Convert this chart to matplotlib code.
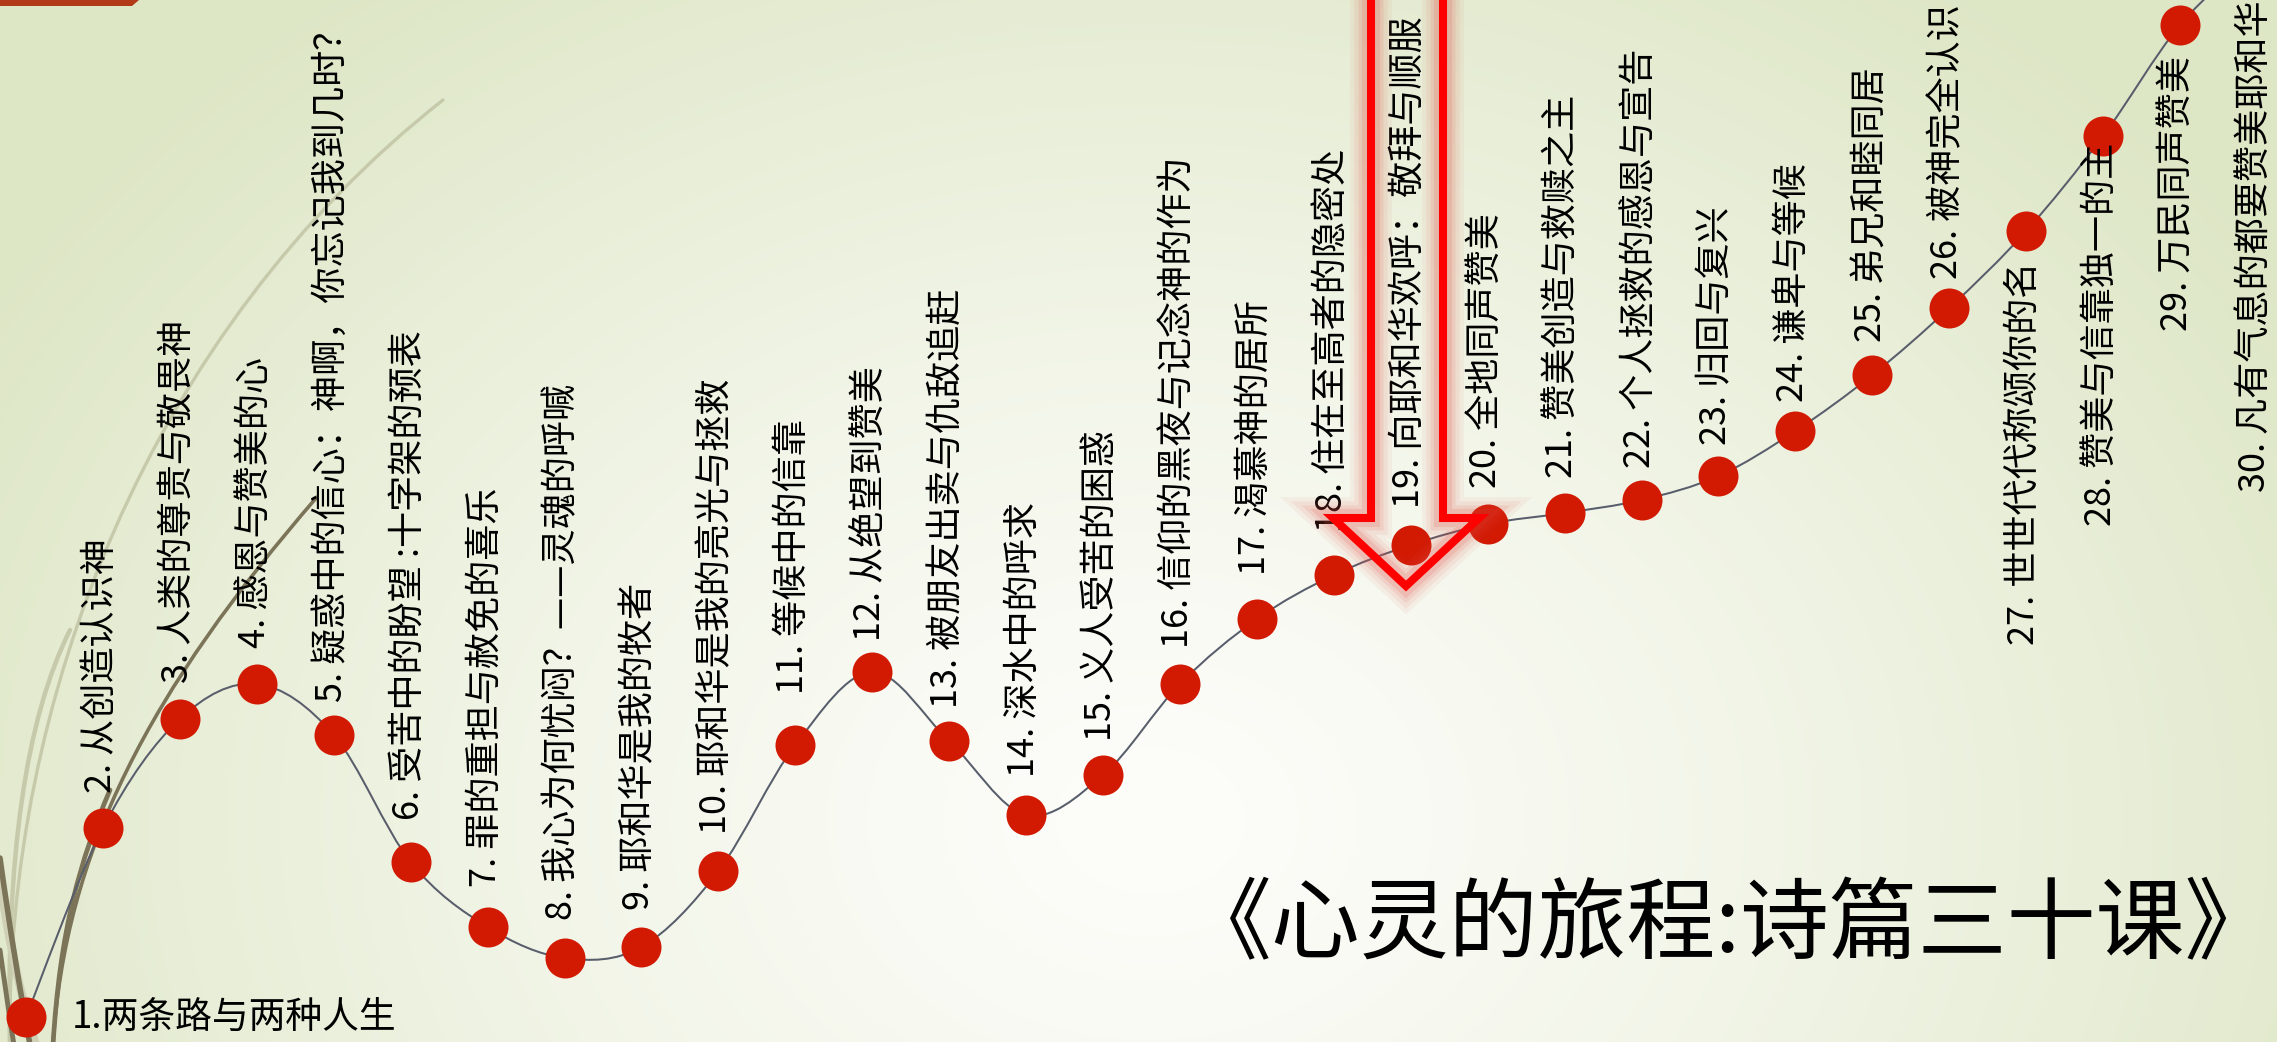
import numpy as np
import matplotlib
matplotlib.use("Agg")
import matplotlib.pyplot as plt
from matplotlib.path import Path
from matplotlib.patches import PathPatch, Polygon
from matplotlib.transforms import offset_copy

plt.rcParams['font.family'] = ['Noto Sans CJK SC', 'DejaVu Sans']

# ---------------- data ----------------
lesson_no = list(range(1, 31))
journey_level = [2.5, 21.4, 32.3, 35.8, 30.7, 18.0, 11.5, 8.4, 9.5, 17.1,
                 29.7, 37.0, 30.1, 22.7, 26.7, 35.8, 42.3, 46.7, 49.7, 51.8,
                 52.9, 54.2, 56.6, 61.1, 66.7, 73.4, 81.1, 90.6, 101.7, 109.0]
lesson_titles = [
    "1.两条路与两种人生",
    "2. 从创造认识神",
    "3. 人类的尊贵与敬畏神",
    "4. 感恩与赞美的心",
    "5. 疑惑中的信心：神啊，你忘记我到几时？",
    "6. 受苦中的盼望 :十字架的预表",
    "7. 罪的重担与赦免的喜乐",
    "8. 我心为何忧闷？——灵魂的呼喊",
    "9. 耶和华是我的牧者",
    "10. 耶和华是我的亮光与拯救",
    "11. 等候中的信靠",
    "12. 从绝望到赞美",
    "13. 被朋友出卖与仇敌追赶",
    "14. 深水中的呼求",
    "15. 义人受苦的困惑",
    "16. 信仰的黑夜与记念神的作为",
    "17. 渴慕神的居所",
    "18. 住在至高者的隐密处",
    "19. 向耶和华欢呼：敬拜与顺服",
    "20. 全地同声赞美",
    "21. 赞美创造与救赎之主",
    "22. 个人拯救的感恩与宣告",
    "23. 归回与复兴",
    "24. 谦卑与等候",
    "25. 弟兄和睦同居",
    "26. 被神完全认识",
    "27. 世世代代称颂你的名",
    "28. 赞美与信靠独一的主",
    "29. 万民同声赞美",
    "30. 凡有气息的都要赞美耶和华",
]
title_text = "《心灵的旅程:诗篇三十课》"

# ---------------- layout (pixels) ----------------
W, H = 2277, 1042
X0_PX, STEP_PX = 26.0, 76.93          # pixel x of lesson 1, spacing
LEVEL_PX = 10.0                        # pixels per level unit
# gap between point centre and label (px): + above, - below
label_gap = [None, 35, 36, 36, 33, 42, 40, 38, 37, 37, 51, 31, 33, 38, 34,
             36, 44, 43, 37, 36, 35, 32, 31, 29, 33, 29, -31, -7, -31, -48]

fig = plt.figure(figsize=(W / 100, H / 100), dpi=100)

# background axes (pixel coords)
axb = fig.add_axes([0, 0, 1, 1])
axb.set_xlim(0, W)
axb.set_ylim(H, 0)
axb.axis('off')
yy, xx = np.mgrid[0:H, 0:W]
d = np.sqrt(((xx - 1150) / 1350.0) ** 2 + ((yy - 820) / 1050.0) ** 2)
t = np.clip(d, 0, 1) ** 1.3
inner = np.array([253, 253, 250]) / 255.0
outer = np.array([221, 230, 197]) / 255.0
img = inner * (1 - t[..., None]) + outer * t[..., None]
axb.imshow(img, extent=(0, W, H, 0), aspect='auto', zorder=0)

# red bar top-left
axb.add_patch(Polygon([(0, 0), (139, 0), (132, 6), (0, 6)], closed=True,
                      facecolor='#b33a18', edgecolor='none', zorder=1))

# decorative grass strokes
def bez(p0, p1, p2, p3, color, lw, alpha=1.0):
    pth = Path([p0, p1, p2, p3], [Path.MOVETO, Path.CURVE4, Path.CURVE4, Path.CURVE4])
    axb.add_patch(PathPatch(pth, facecolor='none', edgecolor=color, lw=lw,
                            alpha=alpha, capstyle='round', zorder=2))

bez((10, 1045), (5, 700), (150, 330), (443, 100), '#c7c9ab', 2.4)
bez((10, 1045), (6, 860), (25, 720), (70, 630), '#c7c9ab', 3.2)
bez((53, 1045), (65, 850), (150, 690), (317, 497), '#7b7458', 2.6)
bez((53, 1045), (60, 930), (80, 860), (110, 790), '#7b7458', 3.4)
bez((0, 880), (10, 950), (22, 1000), (36, 1045), '#cfd0b6', 6.0)
bez((0, 858), (10, 930), (20, 990), (30, 1045), '#7b7458', 4.0)
bez((0, 950), (5, 985), (9, 1015), (14, 1045), '#7b7458', 3.5)

# data axes
ax = fig.add_axes([0, 0, 1, 1], facecolor='none')
ax.set_xlim(1 - X0_PX / STEP_PX, 1 + (W - X0_PX) / STEP_PX)
ax.set_ylim(0, H / LEVEL_PX)
ax.axis('off')

xs = np.array(lesson_no, float)
ys = np.array(journey_level, float)
verts = [(xs[0], ys[0])]
codes = [Path.MOVETO]
n = len(xs)
for i in range(n - 1):
    p0 = np.array([xs[max(i - 1, 0)], ys[max(i - 1, 0)]])
    p1 = np.array([xs[i], ys[i]])
    p2 = np.array([xs[i + 1], ys[i + 1]])
    p3 = np.array([xs[min(i + 2, n - 1)], ys[min(i + 2, n - 1)]])
    c1 = p1 + (p2 - p0) / 6.0
    c2 = p2 - (p3 - p1) / 6.0
    verts += [tuple(c1), tuple(c2), tuple(p2)]
    codes += [Path.CURVE4] * 3
ax.add_patch(PathPatch(Path(verts, codes), facecolor='none',
                       edgecolor='#585d6b', lw=1.45, zorder=3))
ax.plot(xs, ys, 'o', ms=28.8, color='#d21902', mec='none', zorder=4)

# labels
fam = ['Noto Sans CJK SC', 'DejaVu Sans']
ax.text(xs[0], ys[0], lesson_titles[0], ha='left', va='center',
        transform=offset_copy(ax.transData, fig=fig, x=46, y=0, units='dots'),
        zorder=5, family=fam, fontsize=26.5, color='black', fontweight='light')
for i in range(1, n):
    g = label_gap[i]
    tr = offset_copy(ax.transData, fig=fig, x=-2, y=g, units='dots')
    ax.text(xs[i], ys[i], lesson_titles[i], rotation=90, ha='center',
            va='bottom' if g > 0 else 'top', transform=tr, zorder=5,
            family=fam, fontsize=26, color='black', fontweight='light')

# top axes: arrow and title
axt = fig.add_axes([0, 0, 1, 1], facecolor='none')
axt.set_xlim(0, W)
axt.set_ylim(H, 0)
axt.axis('off')
arrow_x = [1371, 1371, 1333, 1406, 1479, 1443, 1443]
arrow_y = [-30, 518, 518, 586, 518, 518, -30]
for lw, a in [(30, 0.06), (24, 0.08), (18, 0.11), (13, 0.15)]:
    axt.plot(arrow_x, arrow_y, color='#e04a40', lw=lw, alpha=a,
             solid_joinstyle='miter', zorder=6)
axt.plot(arrow_x, arrow_y, color='#ff0000', lw=5.8,
         solid_joinstyle='miter', zorder=7)

axt.text(2274, 927, title_text, ha='right', va='center', fontsize=64,
         color='black', family=fam, zorder=8)

fig.savefig('out.png', dpi=100)
